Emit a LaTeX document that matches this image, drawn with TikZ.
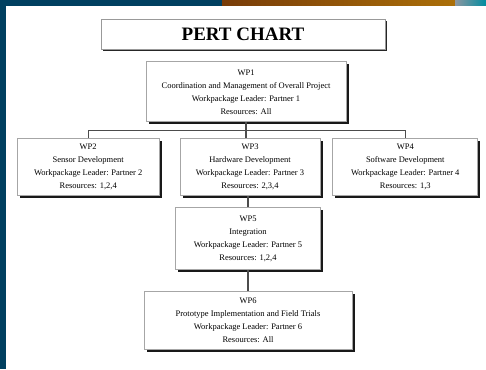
\documentclass[tikz,border=0pt]{standalone}
\usepackage{fontspec}
\setmainfont{Liberation Serif}
\usepackage{tikz}
\usetikzlibrary{positioning}
\usetikzlibrary{calc,shadows}
\definecolor{slideblue}{RGB}{0,64,96}
\definecolor{slidebrown}{RGB}{150,75,10}
\definecolor{slidegray}{RGB}{140,150,160}

\begin{document}
\begin{tikzpicture}[x=1pt,y=-1pt,
titlenode/.style={rectangle, draw=black!40, fill=white, line width=0.8pt, minimum width=284pt, minimum height=30pt, font=\fontsize{19}{20}\selectfont\bfseries, drop shadow={shadow xshift=2pt, shadow yshift=-2pt, fill=black!85, opacity=1}},
wpnode/.style={rectangle, draw=black!35, fill=white, line width=0.8pt, align=center, inner sep=2pt, font=\fontsize{8.5}{13}\selectfont, drop shadow={shadow xshift=2.5pt, shadow yshift=-2.5pt, fill=black!90, opacity=1}},
link/.style={draw=black!70, line width=1.2pt},
]
%Background
\fill[white] (0,0) rectangle (486,369);
\fill[slideblue] (0,0) rectangle (6,369);
\fill[slideblue] (0,0) rectangle (222,6);
\shade[left color=slidebrown!80!black, right color=slidebrown!80!yellow] (222,0) rectangle (455,6);
\shade[left color=slidegray, right color=slideblue!60!cyan] (455,0) rectangle (486,6);
\useasboundingbox (0,0) rectangle (486,369);
%Nodes
\node[titlenode]                 (title)                            at (243,34) {PERT CHART};
\node[wpnode, minimum width=200pt, minimum height=60pt] (coord)    [below=12pt of title, xshift=3pt]     {WP1\\Coordination and Management of Overall Project\\Workpackage Leader: Partner 1\\Resources: All};
\node[wpnode, minimum width=140pt, minimum height=57pt] (hardware) [below=16pt of coord, xshift=4pt]     {WP3\\Hardware Development\\Workpackage Leader: Partner 3\\Resources: 2,3,4};
\node[wpnode, minimum width=142pt, minimum height=57pt] (sensor)   [left=20pt of hardware]   {WP2\\Sensor Development\\Workpackage Leader: Partner 2\\Resources: 1,2,4};
\node[wpnode, minimum width=145pt, minimum height=57pt] (software) [right=12pt of hardware]  {WP4\\Software Development\\Workpackage Leader: Partner 4\\Resources: 1,3};
\node[wpnode, minimum width=145pt, minimum height=62pt] (integr)   [below=11pt of hardware, xshift=-2pt]  {WP5\\Integration\\Workpackage Leader: Partner 5\\Resources: 1,2,4};
\node[wpnode, minimum width=208pt, minimum height=58pt] (valid)    [below=21pt of integr]    {WP6\\Prototype Implementation and Field Trials\\Workpackage Leader: Partner 6\\Resources: All};
\coordinate (bus) at ($(coord.south)!0.5!(hardware.north)$);
%Lines
\draw[link] (coord.south) -- (coord.south |- bus);
\draw[link] (sensor.north) |- (bus) -| (software.north);
\draw[link] (coord.south |- bus) -- (coord.south |- hardware.north);
\draw[link] (integr.north |- hardware.south) -- (integr.north);
\draw[link] (integr.south) -- (valid.north);
\end{tikzpicture}
\end{document}
